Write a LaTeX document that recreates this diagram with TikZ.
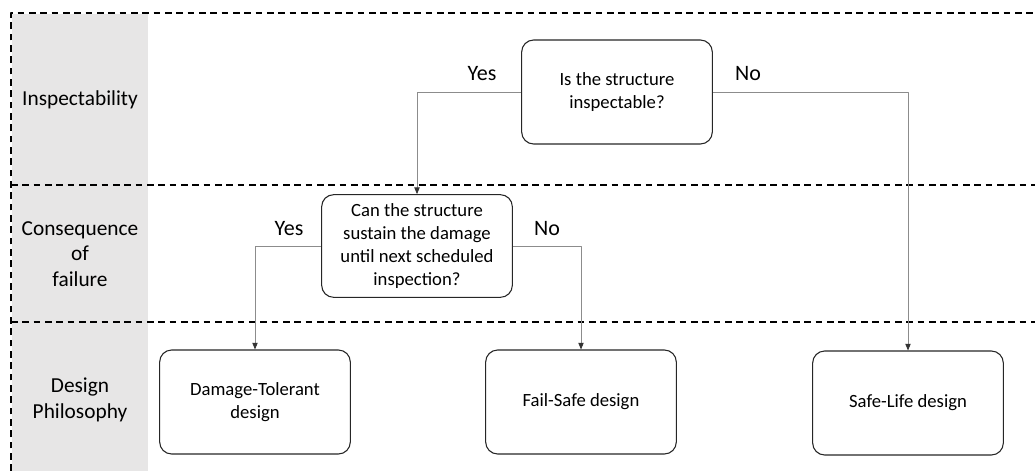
\documentclass[tikz,border=0pt]{standalone}
\usepackage{fontspec}
\setmainfont{Carlito}
\usetikzlibrary{arrows.meta}
\definecolor{bandgray}{HTML}{E7E6E6}
\definecolor{linegray}{HTML}{8C8C8C}
\tikzset{
	box/.style={draw=black!85, line width=0.8pt, rounded corners=9pt, align=center,
		minimum width=143pt, minimum height=78pt, inner sep=2pt, font=\fontsize{14}{17.2}\selectfont},
	conn/.style={draw=linegray, line width=0.6pt, -{Triangle[length=5pt,width=4pt,color=black!80]}},
	lane/.style={dashed, line width=1pt, dash pattern=on 5pt off 3.5pt},
	lanetext/.style={align=center, font=\fontsize{16}{19.2}\selectfont},
	answer/.style={font=\fontsize{16.5}{19}\selectfont}
}
\begin{document}
\begin{tikzpicture}[x=0.75pt, y=-0.75pt, line join=round]
	\useasboundingbox (0,0) rectangle (1035,471);
	\fill[bandgray] (12,14) rectangle (148,471);
	% lanes
	\draw[lane] (11,471)--(11,13)--(1035,13);
	\foreach \y in {185,322}{
		\draw[lane] (11,\y)--(1035,\y);}
	\node[lanetext] (insp) at (80,100) {Inspectability};
	\node[lanetext] (cons) at (80,254) {Consequence\\of\\failure};
	\node[lanetext] (phil) at (80,400) {Design\\Philosophy};
	% questions
	\node[box] (q1) at (617,92) {Is the structure\\inspectable?};
	\node[box, minimum height=77pt] (q2) at (417,246) {Can the structure\\sustain the damage\\until next scheduled\\inspection?};
	% outcomes
	\node[box] (dt) at (255,402) {Damage-Tolerant\\design};
	\node[box] (fs) at (581,402) {Fail-Safe design};
	\node[box] (sl) at (908,403) {Safe-Life design};
	\draw[conn] (q1.west) -| (q2.north);
	\draw[conn] (q1.east) -| (sl.north);
	\draw[conn] (q2.west) -| (dt.north);
	\draw[conn] (q2.east) -| (fs.north);
	\node[answer] (y1) at (482,74) {Yes};
	\node[answer] (n1) at (748,74) {No};
	\node[answer] (y2) at (289,229) {Yes};
	\node[answer] (n2) at (547,229) {No};
\end{tikzpicture}
\end{document}
